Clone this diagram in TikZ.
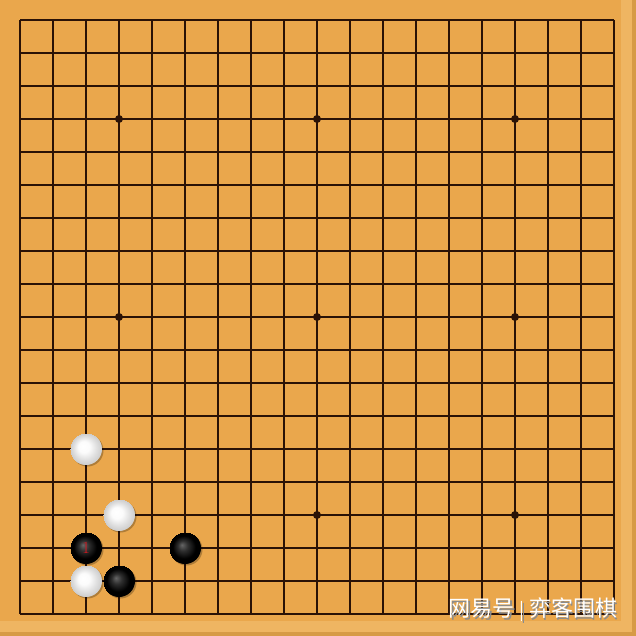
\documentclass[tikz,border=0pt]{standalone}
\usepackage{fontspec}
\newfontfamily\cjk{Noto Sans CJK SC}
\definecolor{board}{HTML}{EAA74C}
\definecolor{boardedge}{HTML}{EFB562}
\definecolor{gridc}{HTML}{2A1206}
\definecolor{numred}{HTML}{D81820}
\pgfdeclareradialshading{whitestone}{\pgfpoint{-5bp}{5bp}}{color(0bp)=(white); color(9bp)=(white!97!gray); color(18bp)=(white!75!gray); color(25bp)=(white!60!gray)}
\pgfdeclareradialshading{blackstone}{\pgfpoint{-5bp}{5bp}}{color(0bp)=(black!60); color(8bp)=(black!82); color(18bp)=(black); color(25bp)=(black)}
\tikzset{
  gridline/.style={draw=gridc, line width=1.8pt},
  stonebase/.style={circle, minimum size=32pt, inner sep=0pt},
  wstone/.style={stonebase, shading=whitestone},
  bstone/.style={stonebase, shading=blackstone},
  shadowdisc/.style={circle, fill=black, opacity=0.25, minimum size=32pt, inner sep=0pt},
  numlabel/.style={text=numred, inner sep=0pt, font=\fontsize{17}{17}\selectfont},
}
\begin{document}
\begin{tikzpicture}[x=1pt,y=-1pt]
\useasboundingbox (0,0) rectangle (636,636);
\fill[board] (0,0) rectangle (636,636);
\fill[boardedge] (621,0) rectangle (632,636);
\fill[boardedge] (0,621) rectangle (632,632);
\fill[board!92!black] (632,0) rectangle (636,636);
\fill[board!92!black] (0,632) rectangle (636,636);
% grid
\foreach \i in {0,...,18}{
  \draw[gridline] ({20+33*\i},20) -- ({20+33*\i},614);
  \draw[gridline] (20,{20+33*\i}) -- (614,{20+33*\i});
}
% star points
\foreach \c/\r in {3/3,9/3,15/3,3/9,9/9,15/9,9/15,15/15}{
  \fill[gridc] ({20+33*\c},{20+33*\r}) circle (4pt);
}
% shadows
\foreach \c/\r in {2/13,3/15,2/16,5/16,2/17,3/17}{
  \node[shadowdisc] at ({21.5+33*\c},{21.5+33*\r}) {};
}
% stones
\node[wstone] (w1) at ({20+33*2},{20+33*13}) {};
\node[wstone] (w2) at ({20+33*3},{20+33*15}) {};
\node[bstone] (b1) at ({20+33*2},{20+33*16}) {};
\node[bstone] (b2) at ({20+33*5},{20+33*16}) {};
\node[wstone] (w3) at ({20+33*2},{20+33*17}) {};
\node[bstone] (b3) at ({20+33*3},{20+33*17}) {};
\node[numlabel] (n1) at (b1.center) {1};
% watermark
\node[text=black!45, anchor=center, inner sep=0pt] (wmshadow) at (534.5,611.5) {\cjk\fontsize{22}{22}\selectfont 网易号\hspace{5pt}{\fontsize{18}{18}\selectfont|}\hspace{5pt}弈客围棋};
\node[text=white, anchor=center, inner sep=0pt] (wm) at (533,610) {\cjk\fontsize{22}{22}\selectfont 网易号\hspace{5pt}{\fontsize{18}{18}\selectfont|}\hspace{5pt}弈客围棋};
\end{tikzpicture}
\end{document}
